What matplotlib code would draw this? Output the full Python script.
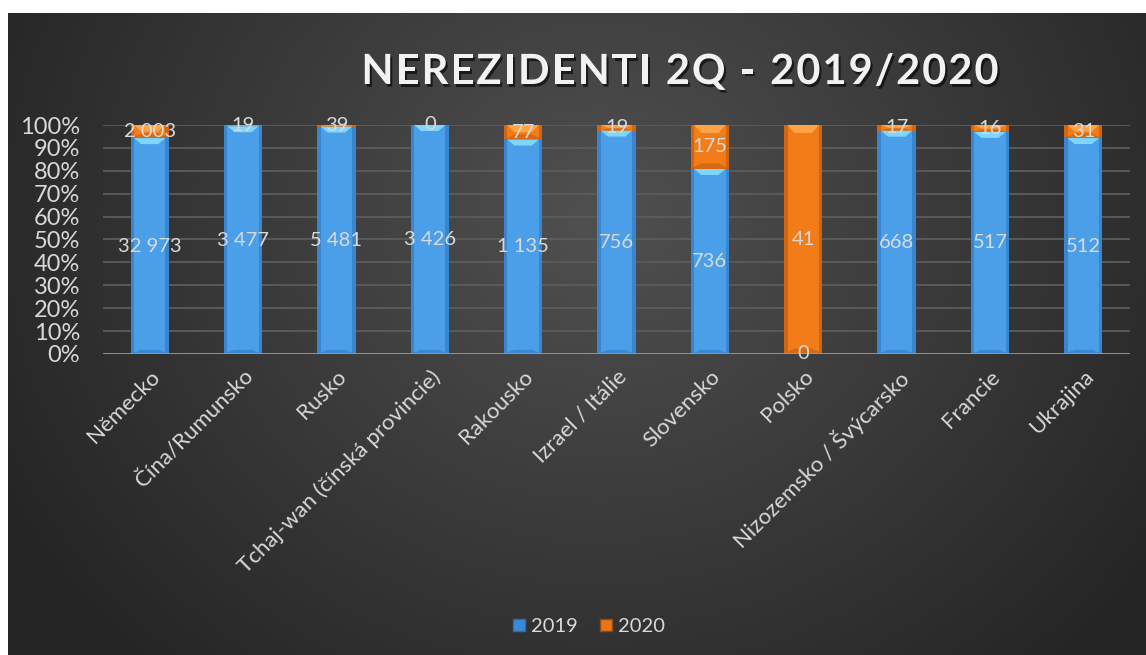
import numpy as np
import matplotlib
matplotlib.use("Agg")
import matplotlib.pyplot as plt
from matplotlib.patches import Polygon, Rectangle
from matplotlib.lines import Line2D
import matplotlib.patheffects as pe

categories = ["Německo", "Čína/Rumunsko", "Rusko", "Tchaj-wan (čínská provincie)",
              "Rakousko", "Izrael / Itálie", "Slovensko", "Polsko",
              "Nizozemsko / Švýcarsko", "Francie", "Ukrajina"]
v2019 = [32973, 3477, 5481, 3426, 1135, 756, 736, 0, 668, 517, 512]
v2020 = [2003, 19, 39, 0, 77, 19, 175, 41, 17, 16, 31]
yticks = [0, 10, 20, 30, 40, 50, 60, 70, 80, 90, 100]
title = "NEREZIDENTI 2Q - 2019/2020"

FONT = ["Lato", "DejaVu Sans"]
TXT = "#d9d9d9"

W, H = 1146, 655
fig = plt.figure(figsize=(W / 100, H / 100), dpi=100)
fig.patch.set_facecolor("white")

# background panel with radial gradient
bg = fig.add_axes([8 / W, 0, (W - 8) / W, (H - 13) / H])
bg.set_axis_off()
nx, ny = 400, 240
xx, yy = np.meshgrid(np.linspace(0, 1, nx), np.linspace(0, 1, ny))
cx, cy = 0.52, 0.32
d = np.sqrt(((xx - cx) * 1.6) ** 2 + ((yy - cy) * 1.0) ** 2)
d = np.clip(d / 0.95, 0, 1)
c_in = np.array([0x50, 0x50, 0x50]) / 255
c_out = np.array([0x25, 0x25, 0x25]) / 255
img = c_in[None, None, :] * (1 - d[..., None]) + c_out[None, None, :] * d[..., None]
bg.imshow(img, extent=[0, 1, 0, 1], origin="upper", aspect="auto")
bg.set_xlim(0, 1)
bg.set_ylim(0, 1)

ax_l, ax_r = 103 / W, 1130 / W
ax_b, ax_t = 1 - 354 / H, 1 - 125 / H
ax = fig.add_axes([ax_l, ax_b, ax_r - ax_l, ax_t - ax_b])
ax.set_facecolor("none")
n = len(categories)
ax.set_xlim(-0.5, n - 0.5)
ax.set_ylim(0, 1)

tot = np.array(v2019, float) + np.array(v2020, float)
p19 = np.array(v2019) / tot
p20 = np.array(v2020) / tot

for t in yticks[1:]:
    ax.axhline(t / 100, color="#5c5c5c", lw=1.3, zorder=0)
ax.axhline(0, color="#9a9a9a", lw=2, zorder=3)

bw = 0.41
px_x = (ax_r - ax_l) * W / n
px_y = (ax_t - ax_b) * H

def bevel_bar(x, y0, h, base, light, dark, bev=7):
    if h <= 0:
        return
    ax.bar(x, h, bottom=y0, width=bw, color=base, edgecolor="none", zorder=2)
    sw = 3.5 / px_x
    bh = min(bev / px_y, h / 2)
    l, r = x - bw / 2, x + bw / 2
    ax.add_patch(Rectangle((l, y0), sw, h, color=dark, alpha=0.5, lw=0, zorder=2.1))
    ax.add_patch(Rectangle((r - sw, y0), sw, h, color=dark, alpha=0.5, lw=0, zorder=2.1))
    top = y0 + h
    ax.add_patch(Polygon([(l + sw, top), (r - sw, top), (r - sw * 3, top - bh), (l + sw * 3, top - bh)],
                         closed=True, color=light, lw=0, zorder=2.2))
    ax.add_patch(Polygon([(l, y0), (r, y0), (r - sw * 3, y0 + bh * 0.7), (l + sw * 3, y0 + bh * 0.7)],
                         closed=True, color=dark, alpha=0.45, lw=0, zorder=2.2))

xs = np.arange(n)
for i in xs:
    bevel_bar(i, 0, p19[i], "#4a9fe8", "#7fd6fb", "#2a6db5", bev=6)
    bevel_bar(i, p19[i], p20[i], "#f27c18", "#ffa445", "#b4520a", bev=8)

def fmt(v):
    return f"{v:,}".replace(",", " ")

for i in xs:
    ax.text(i, p19[i] / 2, fmt(v2019[i]), ha="center", va="center", color=TXT,
            fontsize=14.5, family=FONT, zorder=5)
    ax.text(i, p19[i] + p20[i] / 2, fmt(v2020[i]), ha="center", va="center", color=TXT,
            fontsize=14.5, family=FONT, zorder=5)

ax.set_yticks([t / 100 for t in yticks])
ax.set_yticklabels([f"{t}%" for t in yticks], color=TXT, fontsize=17, family=FONT)
ax.set_xticks(xs)
ax.set_xticklabels(categories, rotation=45, ha="right", va="top", rotation_mode="anchor",
                   color=TXT, fontsize=16, family=FONT)
ax.tick_params(axis="both", length=0)
ax.tick_params(axis="y", pad=16.5)
ax.tick_params(axis="x", pad=9)
for s in ax.spines.values():
    s.set_visible(False)

# title with letter spacing
tfs = 30
spacing = 2.0  # px between chars
renderer = fig.canvas.get_renderer()
widths = []
for ch in title:
    t = fig.text(0, 0, ch if ch != " " else "n", fontsize=tfs, family=FONT, weight="bold")
    bb = t.get_window_extent(renderer)
    widths.append(bb.width if ch != " " else bb.width * 0.45)
    t.remove()
total = sum(widths) + spacing * (len(title) - 1)
x0 = 680 - total / 2
ty = 1 - 72 / H
cur = x0
for ch, w in zip(title, widths):
    if ch != " ":
        fig.text(cur / W, ty, ch, fontsize=tfs, family=FONT, weight="bold", color="#f2f2f2",
                 ha="left", va="center",
                 path_effects=[pe.SimplePatchShadow(offset=(1.5, -2), shadow_rgbFace="black", alpha=0.6),
                               pe.Normal()])
    cur += w + spacing

handles = [Line2D([], [], marker="s", ls="none", markersize=9, markerfacecolor="#3c8ad6",
                  markeredgecolor="#2a6db5"),
           Line2D([], [], marker="s", ls="none", markersize=9, markerfacecolor="#e8761a",
                  markeredgecolor="#9a4808")]
leg = fig.legend(handles, ["2019", "2020"], loc="center", bbox_to_anchor=(0.5115, 1 - 626 / H),
                 ncol=2, frameon=False, handletextpad=0.0, columnspacing=0.8,
                 handlelength=1.2, prop={"family": FONT, "size": 14.5})
for t in leg.get_texts():
    t.set_color(TXT)

fig.savefig("out.png", dpi=100, facecolor=fig.get_facecolor())
